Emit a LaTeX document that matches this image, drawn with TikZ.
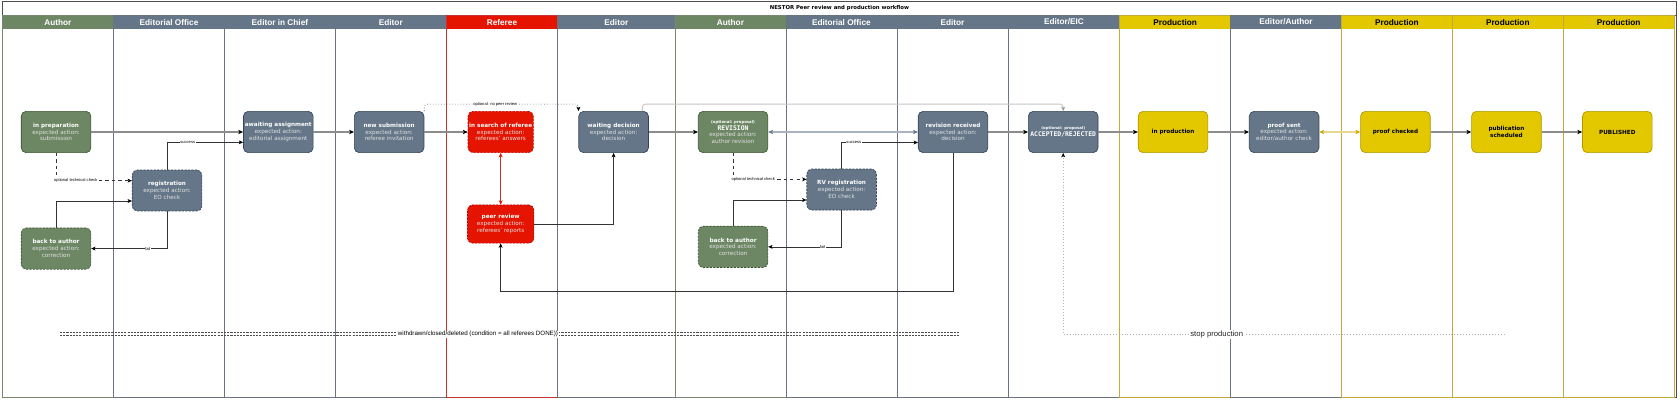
\documentclass[tikz,border=0pt]{standalone}
\usepackage{fontspec}
\setmainfont{DejaVu Sans}
\newfontfamily\hdrfont{Liberation Sans}
\newfontfamily\monofont{DejaVu Sans Mono}
\usetikzlibrary{arrows.meta}
\definecolor{gF}{HTML}{6D8764}\definecolor{gS}{HTML}{3A5431}\definecolor{gL}{HTML}{76896F}
\definecolor{sF}{HTML}{647687}\definecolor{sS}{HTML}{314354}\definecolor{sL}{HTML}{6A7480}
\definecolor{rF}{HTML}{E51400}\definecolor{rS}{HTML}{B20000}\definecolor{rL}{HTML}{C83232}
\definecolor{yF}{HTML}{E3C800}\definecolor{yS}{HTML}{B09500}\definecolor{yL}{HTML}{C4AA3A}
\definecolor{subc}{HTML}{E2E2E2}
\definecolor{flowgray}{HTML}{8C8C8C}
\definecolor{slateline}{HTML}{A9B3C0}
\definecolor{goldline}{HTML}{E6D78C}
\definecolor{goldtip}{HTML}{C9A800}
\newcommand{\expact}[1]{\textcolor{subc}{expected action:}\\\textcolor{subc}{#1}}
\newcommand{\mylane}[6]{%
  \fill[#4F] (#2,14) rectangle (#3,27);
  \draw[#4L, line width=0.5pt] (#2,14) rectangle (#3,371);
  \node[hdr, text=#6] (#1) at ({(#2+#3)/2},20.6) {#5};
}
\tikzset{
  box/.style={rounded corners=4.5pt, minimum width=65pt, minimum height=38.5pt, align=center, inner sep=0pt, line width=0.6pt, font=\fontsize{5.3}{6.3}\selectfont},
  gbox/.style={box, fill=gF, draw=gS, text=white},
  sbox/.style={box, fill=sF, draw=sS, text=white},
  rbox/.style={box, fill=rF, draw=rS, text=white},
  ybox/.style={box, fill=yF, draw=yS, text=black},
  dsh/.style={dash pattern=on 2pt off 1.2pt},
  hdr/.style={font=\hdrfont\bfseries\fontsize{7.7}{8}\selectfont, inner sep=0pt},
  flow/.style={draw=flowgray, line width=1.2pt, -{Stealth[length=4.5pt,width=4pt,inset=1.2pt,black]}},
  conn/.style={draw=black!80, line width=0.6pt, -{Stealth[length=4pt,width=3.6pt,inset=1pt,black]}},
  gline/.style={draw=gray!45, line width=0.8pt, -{Stealth[length=4pt,width=3.6pt,inset=1pt,gray!80]}},
  slatebi/.style={draw=slateline, line width=1.2pt, {Stealth[length=4.5pt,width=4pt,inset=1.2pt,sF]}-{Stealth[length=4.5pt,width=4pt,inset=1.2pt,sF]}},
  goldbi/.style={draw=goldline, line width=1.2pt, {Stealth[length=4.5pt,width=4pt,inset=1.2pt,goldtip]}-{Stealth[length=4.5pt,width=4pt,inset=1.2pt,goldtip]}},
  redbi/.style={draw=rL, line width=0.7pt, {Stealth[length=4pt,width=3.6pt,inset=1pt,rF]}-{Stealth[length=4pt,width=3.6pt,inset=1pt,rF]}},
  stopln/.style={draw=gray!60, dotted, line width=0.7pt, -{Stealth[length=4pt,width=3.6pt,inset=1pt,black]}},
  wd/.style={draw=black!70, dash pattern=on 2pt off 1pt, line width=0.6pt},
  lbl/.style={font=\hdrfont\fontsize{3.8}{4}\selectfont, fill=white, inner sep=0.4pt, text=black},
  lblw/.style={font=\hdrfont\fontsize{5.8}{6}\selectfont, fill=white, inner sep=0.6pt, text=black},
  lbls/.style={font=\hdrfont\fontsize{7.2}{7.5}\selectfont, fill=white, inner sep=0.8pt, text=black!85},
}
\begin{document}
\begin{tikzpicture}[x=1pt, y=-1pt]
\useasboundingbox (0,0) rectangle (1568,385);
\fill[white] (0,0) rectangle (1568,385);
% pool
\draw[black!70, line width=0.6pt] (2,1) rectangle (1565,371);
\draw[black!70, line width=0.5pt] (2,14) -- (1565,14);
\node[font=\bfseries\fontsize{5}{6}\selectfont, inner sep=0pt] (title) at (783.5,7.6) {NESTOR Peer review and production workflow};
% lanes
\mylane{h1}{2}{106}{g}{Author}{white}
\mylane{h2}{106}{209.5}{s}{Editorial Office}{white}
\mylane{h3}{209.5}{313}{s}{Editor in Chief}{white}
\mylane{h4}{313}{416.5}{s}{Editor}{white}
\mylane{h5}{416.5}{520.5}{r}{Referee}{white}
\mylane{h6}{520.5}{630}{s}{Editor}{white}
\mylane{h7}{630}{733.5}{g}{Author}{white}
\mylane{h8}{733.5}{837}{s}{Editorial Office}{white}
\mylane{h9}{837}{941}{s}{Editor}{white}
\mylane{h10}{941}{1045}{s}{Editor/EIC}{white}
\mylane{h11}{1045}{1148.5}{y}{Production}{black}
\mylane{h12}{1148.5}{1252}{s}{Editor/Author}{white}
\mylane{h13}{1252}{1355.5}{y}{Production}{black}
\mylane{h14}{1355.5}{1459}{y}{Production}{black}
\mylane{h15}{1459}{1562.5}{y}{Production}{black}
% nodes row 1
\node[gbox] (prep) at (52.3,123.2) {\textbf{in preparation}\\\expact{submission}};
\node[sbox] (awaiting) at (259.7,123.2) {\textbf{awaiting assignment}\\\expact{editorial assignment}};
\node[sbox] (newsub) at (363.2,123.2) {\textbf{new submission}\\\expact{referee invitation}};
\node[rbox, dsh, minimum width=61pt] (search) at (467.3,123.2) {\textbf{in search of referee}\\\expact{referees' answers}};
\node[sbox] (waiting) at (572.7,123.2) {\textbf{waiting decision}\\\expact{decision}};
\node[gbox] (revision) at (684.2,123.2) {{\bfseries\fontsize{3.6}{4.5}\selectfont (optional: proposal)}\\{\monofont\bfseries\fontsize{6}{6.5}\selectfont REVISION}\\\expact{author revision}};
\node[sbox] (revrec) at (889.5,123.2) {\textbf{revision received}\\\expact{decision}};
\node[sbox] (accepted) at (992.3,123.2) {{\bfseries\fontsize{3.6}{4.5}\selectfont (optional: proposal)}\\{\monofont\bfseries\fontsize{6}{6.5}\selectfont ACCEPTED/REJECTED}};
\node[ybox] (inprod) at (1094.8,123.2) {\textbf{in production}};
\node[sbox] (proofsent) at (1198.5,123.2) {\textbf{proof sent}\\\expact{editor/author check}};
\node[ybox] (proofchecked) at (1302.4,123.2) {\textbf{proof checked}};
\node[ybox] (pubsched) at (1406,123.2) {\textbf{publication}\\\textbf{scheduled}};
\node[ybox] (published) at (1509.5,123.2) {\textbf{PUBLISHED}};
% other nodes
\node[sbox, dsh, minimum height=38.2pt] (reg) at (155.9,177.8) {\textbf{registration}\\\expact{EO check}};
\node[gbox, dsh] (back1) at (52.3,232) {\textbf{back to author}\\\expact{correction}};
\node[rbox, dsh, minimum width=62pt, minimum height=35.6pt] (peer) at (467.3,209.1) {\textbf{peer review}\\\expact{referees' reports}};
\node[sbox, dsh, minimum height=38.3pt] (rvreg) at (785.5,176.9) {\textbf{RV registration}\\\expact{EO check}};
\node[gbox, dsh] (back2) at (684.2,230.4) {\textbf{back to author}\\\expact{correction}};
% main flow
\draw[flow] (prep) -- (awaiting);
\draw[flow] (awaiting) -- (newsub);
\draw[flow] (newsub) -- (search);
\draw[flow] (waiting) -- (revision);
\draw[flow] (revrec) -- (accepted);
\draw[flow] (accepted) -- (inprod);
\draw[flow] (inprod) -- (proofsent);
\draw[flow] (proofchecked) -- (pubsched);
\draw[flow] (pubsched) -- (published);
\draw[slatebi] (revision) -- (revrec);
\draw[goldbi] (proofsent) -- (proofchecked);
\draw[redbi] (search) -- (peer);
% left checks
\draw[conn, dashed] (prep.south) |- node[lbl, pos=0.63]{optional technical check} ([yshift=9.2pt]reg.west);
\draw[conn] (back1.north) |- ([yshift=-9.8pt]reg.west);
\draw[conn] (reg.south) |- node[lbl, pos=0.627]{fail} (back1.east);
\draw[conn] (reg.north) |- node[lbl, pos=0.636]{success} ([yshift=-9.6pt]awaiting.west);
% right checks
\draw[conn, dashed] (revision.south) |- node[lbl, pos=0.637]{optional technical check} ([yshift=9.5pt]rvreg.west);
\draw[conn] (back2.north) |- ([yshift=-9.8pt]rvreg.west);
\draw[conn] (rvreg.south) |- node[lbl, pos=0.63]{fail} (back2.east);
\draw[conn] (rvreg.north) |- node[lbl, pos=0.58]{success} ([yshift=-9.8pt]revrec.west);
% peer review loop
\draw[conn] (peer.east) -| (waiting.south);
\coordinate (lowturn) at (889.5,272);
\draw[conn] (revrec.south) -- (lowturn) -| (peer.south);
% optional no peer review
\draw[conn, dotted, rounded corners=3pt] (newsub.north east) -- ++(0,-6.5) -| node[lbl, pos=0.23]{optional: no peer review} (waiting.north west);
\draw[gline, rounded corners=3pt] ([xshift=-6pt]waiting.north east) -- ++(0,-6.5) -| (accepted.north);
% withdrawn
\coordinate (wa1) at (56,310.5);
\coordinate (wb1) at (895,310.5);
\coordinate (wa2) at (56,313.2);
\coordinate (wb2) at (895,313.2);
\draw[wd] (wa2) -- (wb2);
\draw[wd] (wa1) -- node[lblw, pos=0.465, yshift=-1.3pt]{withdrawn/closed/deleted (condition = all referees DONE))} (wb1);
% stop production
\coordinate (stopend) at (1404,312);
\draw[stopln] (stopend) -| node[lbls, pos=0.326]{stop production} (accepted.south);
\end{tikzpicture}
\end{document}
